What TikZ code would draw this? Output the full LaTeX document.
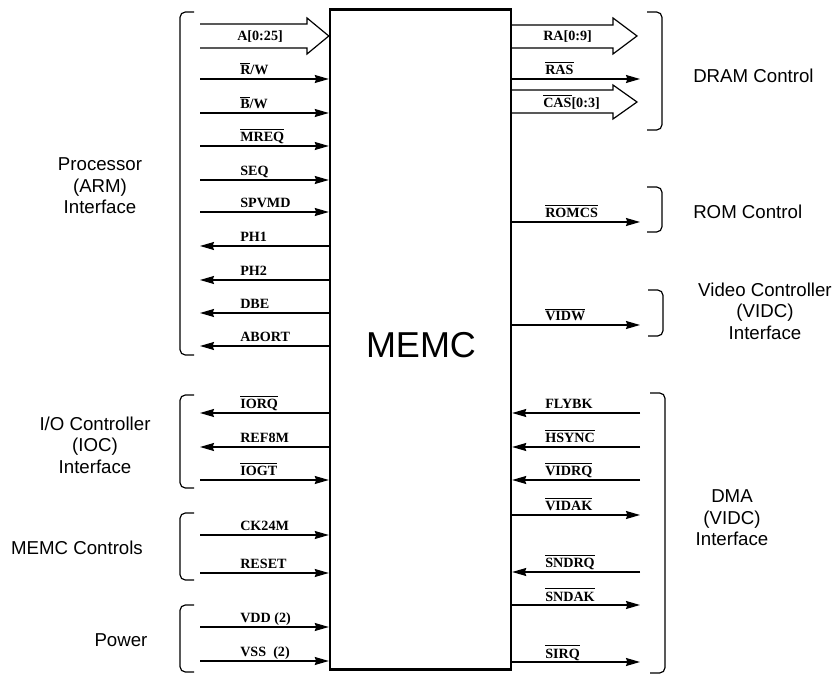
\documentclass[tikz,border=0pt]{standalone}
\usepackage{fontspec}
\setmainfont{Liberation Serif}
\setsansfont{Liberation Sans}
\usetikzlibrary{arrows.meta}
\newcommand\ob[1]{\vbox{\hrule height0.7pt\kern1.7pt\hbox{#1}}}
\newcommand\inL[3]{\coordinate (#1) at (200,#2); \draw[sig] (#1) -- (#1 -| memc.west); \node[lab] (#1t) at (240,#2-4) {#3};}
\newcommand\outL[3]{\coordinate (#1) at (200,#2); \draw[sig] (#1 -| memc.west) -- (#1); \node[lab] (#1t) at (240,#2-4) {#3};}
\newcommand\outR[3]{\coordinate (#1) at (640,#2); \draw[sig] (#1 -| memc.east) -- (#1); \node[lab] (#1t) at (545,#2-4) {#3};}
\newcommand\inR[3]{\coordinate (#1) at (640,#2); \draw[sig] (#1) -- (#1 -| memc.east); \node[lab] (#1t) at (545,#2-4) {#3};}
\begin{document}
\begin{tikzpicture}[x=0.75pt,y=-0.75pt,
 sig/.style={line width=0.9pt,-{Stealth[length=10.5pt,width=6pt,inset=1pt]}},
 bus/.style={line width=0.9pt, line join=miter},
 lab/.style={font=\bfseries\fontsize{10.6}{12}\selectfont, inner sep=0pt, anchor=base west},
 grp/.style={font=\sffamily\fontsize{14}{16}\selectfont, align=center, inner sep=0pt},
 brk/.style={line width=0.9pt, rounded corners=4pt}]
\path[use as bounding box] (0,0) rectangle (833,677);
\node[draw, line width=1.8pt, minimum width=135.75pt, minimum height=495pt, inner sep=0pt] (memc) at (420.5,339.5) {};
\node[font=\sffamily\fontsize{27}{30}\selectfont] (memct) at (421,345) {MEMC};
% left bus
\coordinate (abus) at (200,36);
\draw[bus] (200,24) -- (307,24) -- (307,18) -- (abus -| memc.west) -- (307,54) -- (307,48) -- (200,48);
\node[lab] (abust) at (237,41) {A[0:25]};
\inL{rw}{79}{\ob{R}/W}
\inL{bw}{113}{\ob{B}/W}
\inL{mreq}{146}{\ob{MREQ}}
\inL{seq}{180}{SEQ}
\inL{spvmd}{212}{SPVMD}
\outL{ph1}{246}{PH1}
\outL{ph2}{280}{PH2}
\outL{dbe}{313}{DBE}
\outL{abort}{346}{ABORT}
\outL{iorq}{413}{\ob{IORQ}}
\outL{ref}{447}{REF8M}
\inL{iogt}{480}{\ob{IOGT}}
\inL{ck}{535}{CK24M}
\inL{reset}{573}{RESET}
\inL{vdd}{627}{VDD (2)}
\inL{vss}{661}{VSS\ \ (2)}
% right buses
\coordinate (rabus) at (637,36);
\draw[bus] (512,25) -- (613,25) -- (613,18) -- (rabus) -- (613,54) -- (613,48) -- (512,48);
\node[lab] (rabust) at (543,41) {RA[0:9]};
\coordinate (casbus) at (637,102);
\draw[bus] (512,90) -- (613,90) -- (613,85) -- (casbus) -- (613,119) -- (613,113) -- (512,113);
\node[lab] (casbust) at (543,108) {\ob{CAS}[0:3]};
\outR{ras}{79}{\ob{RAS}}
\outR{romcs}{222}{\ob{ROMCS}}
\outR{vidw}{325}{\ob{VIDW}}
\inR{flybk}{413}{FLYBK}
\inR{hsync}{447}{\ob{HSYNC}}
\inR{vidrq}{480}{\ob{VIDRQ}}
\outR{vidak}{515}{\ob{VIDAK}}
\inR{sndrq}{572}{\ob{SNDRQ}}
\outR{sndak}{605}{\ob{SNDAK}}
\outR{sirq}{662}{\ob{SIRQ}}
% brackets
\draw[brk] (194,12) -- (180,12) -- (180,355) -- (194,355);
\draw[brk] (194,395) -- (180,395) -- (180,488) -- (194,488);
\draw[brk] (194,513) -- (180,513) -- (180,580) -- (194,580);
\draw[brk] (194,605) -- (180,605) -- (180,672) -- (194,672);
\draw[brk] (647,12) -- (662,12) -- (662,130) -- (647,130);
\draw[brk] (647,187) -- (662,187) -- (662,232) -- (647,232);
\draw[brk] (648,290) -- (663,290) -- (663,336) -- (648,336);
\draw[brk] (650,393) -- (665,393) -- (665,673) -- (650,673);
% group labels
\node[grp] (proc) at (100,186) {Processor\\(ARM)\\Interface};
\node[grp] (ioc) at (95,445) {I/O Controller\\(IOC)\\Interface};
\node[grp] (mctl) at (77,548) {MEMC Controls};
\node[grp] (pwr) at (121,640) {Power};
\node[grp, anchor=west] (dram) at (693,76) {DRAM Control};
\node[grp, anchor=west] (rom) at (693,212) {ROM Control};
\node[grp] (vidc) at (765,311) {Video Controller\\(VIDC)\\Interface};
\node[grp] (dma) at (732,518) {DMA\\(VIDC)\\Interface};
\end{tikzpicture}
\end{document}
